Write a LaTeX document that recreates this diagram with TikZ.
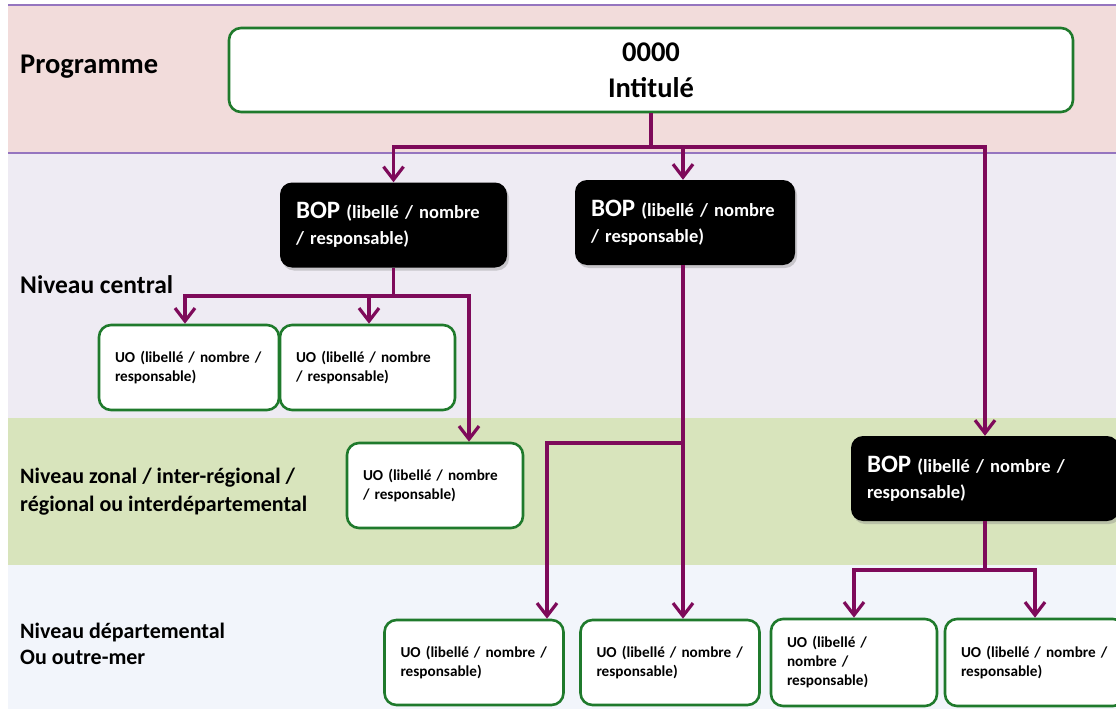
\documentclass[tikz,border=0pt]{standalone}
\usepackage{fontspec}
\setmainfont{Carlito}
\usetikzlibrary{arrows.meta,shadows}

\definecolor{rose}{HTML}{F2DCDB}
\definecolor{lavande}{HTML}{EEEBF3}
\definecolor{vertclair}{HTML}{D8E4BC}
\definecolor{bleuclair}{HTML}{F2F5FB}
\definecolor{traitband}{HTML}{9575BF}
\definecolor{vertbord}{HTML}{1F7A2C}
\definecolor{liencol}{HTML}{7E0A5A}

% 紧凑字距，不断词
\newcommand\serre{\spaceskip 0.2em plus 0.1em\relax\hyphenpenalty 10000\relax}

\begin{document}
\begin{tikzpicture}[x=1pt,y=-1pt,
	boite/.style={rounded corners=12pt, inner xsep=16pt, inner ysep=0pt, minimum height=85pt, align=left},
	uo/.style={boite, draw=vertbord, line width=2.6pt, fill=white, text width=#1,
		font=\bfseries\fontsize{15.2}{19}\selectfont\serre},
	bop/.style={boite, fill=black, text=white, text width=#1,
		font=\bfseries\fontsize{18.5}{26}\selectfont\serre,
		drop shadow={shadow xshift=2pt, shadow yshift=-3pt, opacity=0.35}},
	niveau/.style={anchor=west, align=left, inner sep=0pt, font=\bfseries\fontsize{22}{28}\selectfont},
	lien/.style={draw=liencol, line width=3.2pt},
	fleche/.style={lien, -{Straight Barb[length=13pt,width=20pt]}}]
	\useasboundingbox (0,0) rectangle (1116,709);
	
	% 绘制背景色带
	\foreach \ya/\yb/\c in {5/153/rose, 153/418/lavande, 418/565/vertclair, 565/709/bleuclair}
	\fill[\c] (8,\ya) rectangle (1116,\yb);
	\draw[traitband, line width=1.2pt] (8,5) -- (1116,5);
	\draw[traitband, line width=1.2pt] (8,153) -- (1116,153);
	
	% 标注层级
	\node[niveau, font=\bfseries\fontsize{28.5}{32}\selectfont] (lprog) at (20,67) {Programme};
	\node[niveau, font=\bfseries\fontsize{25.5}{30}\selectfont] (lcentral) at (20,285) {Niveau central};
	\node[niveau] (lzonal) at (20,492) {Niveau zonal / inter-régional /\\régional ou interdépartemental};
	\node[niveau, font=\bfseries\fontsize{22}{26}\selectfont] (ldep) at (20,644) {Niveau départemental\\Ou outre-mer};
	
	% 程序框
	\node[boite, draw=vertbord, line width=2.6pt, fill=white, minimum width=844pt, minimum height=84pt,
		align=center, font=\bfseries\fontsize{28.5}{36}\selectfont] (prog) at (651,70) {0000\\Intitulé};
	
	% BOP 框
	\node[bop=195pt] (bop1) at (393.5,225) {{\fontsize{25}{26}\selectfont BOP} (libellé / nombre\\/ responsable)};
	\node[bop=188pt] (bop2) at (685,222.5) {{\fontsize{25}{26}\selectfont BOP} (libellé / nombre\\/ responsable)};
	\node[bop=236pt] (bop3) at (985,478.5) {{\fontsize{25}{26}\selectfont BOP} (libellé / nombre /\\responsable)};
	
	% UO 框
	\node[uo=148pt] (uoc1) at (189,367.5) {UO (libellé / nombre /\\responsable)};
	\node[uo=143pt] (uoc2) at (367.5,367.5) {UO (libellé / nombre\\/ responsable)};
	\node[uo=144pt] (uoz) at (435,485.5) {UO (libellé / nombre\\/ responsable)};
	\node[uo=147pt] (uod1) at (474,662.5) {UO (libellé / nombre /\\responsable)};
	\node[uo=147pt] (uod2) at (670,662.5) {UO (libellé / nombre /\\responsable)};
	\node[uo=134pt, minimum height=87pt] (uod3) at (854,662.5) {UO (libellé /\\nombre /\\responsable)};
	\node[uo=148pt, minimum height=87pt] (uod4) at (1035,662.5) {UO (libellé / nombre /\\responsable)};
	
	% 连接线
	\coordinate (b0) at (651,147);
	\coordinate (b1) at (393.5,296);
	\coordinate (b1r) at (469,296);
	\coordinate (b2) at (683,443);
	\coordinate (b2g) at (547,443);
	\coordinate (b3) at (985,570);
	
	\draw[lien] (prog) -- (b0);
	\draw[fleche] (b0) -| (bop1);
	\draw[fleche] (b0) -| (bop2.north -| b2);
	\draw[fleche] (b0) -| (bop3);
	
	\draw[lien] (bop1) -- (b1);
	\draw[fleche] (b1) -| (uoc1.north -| 185,0);
	\draw[fleche] (b1) -| (uoc2.north -| 369,0);
	\draw[fleche] (b1) -- (b1r) -- (uoz.north -| b1r);
	
	\draw[fleche] (bop2.south -| b2) -- (uod2.north -| b2);
	\draw[fleche] (b2) -- (b2g) -- (uod1.north -| b2g);
	
	\draw[lien] (bop3) -- (b3);
	\draw[fleche] (b3) -| (uod3);
	\draw[fleche] (b3) -| (uod4);
\end{tikzpicture}
\end{document}
